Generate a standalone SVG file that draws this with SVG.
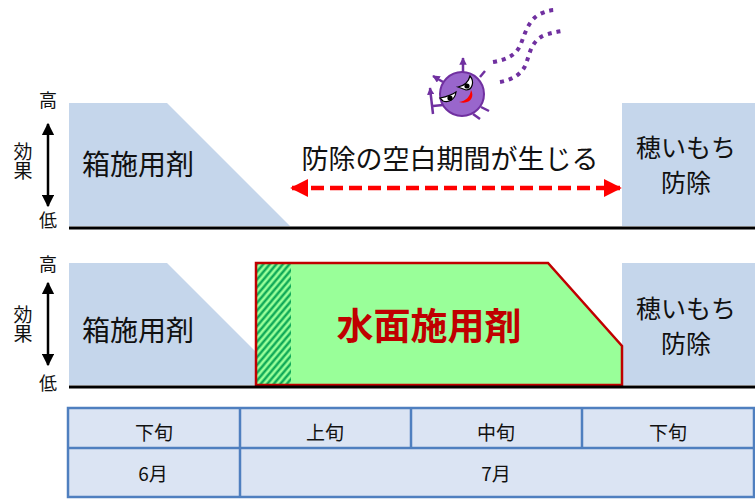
<svg xmlns="http://www.w3.org/2000/svg" width="755" height="499" viewBox="0 0 755 499">
  <defs>
    <style>
      text { font-family: "Noto Sans CJK JP", "Noto Sans", sans-serif; fill: #111; }
      .axis { font-size: 18px; text-anchor: middle; }
      .vert { font-size: 19px; writing-mode: vertical-rl; }
      .label { font-size: 28px; }
      .right { font-size: 25px; text-anchor: middle; }
      .cell { font-size: 19px; text-anchor: middle; }
      .effect { fill: #c5d6eb; }
      .base { stroke: #000; stroke-width: 3; }
      .tbl { fill: #dbe4f3; stroke: #4f7fbf; stroke-width: 2.5; }
      .gap { stroke: #ff0000; stroke-width: 4.5; stroke-dasharray: 13 6; fill: none; }
      .trail { stroke: #7030a0; stroke-width: 4; stroke-dasharray: 4 5; fill: none; }
      .spike { stroke: #7030a0; stroke-width: 2.5; fill: none; }
    </style>
    <marker id="head" viewBox="0 0 10 10" refX="9" refY="5" markerWidth="4" markerHeight="4" orient="auto-start-reverse" markerUnits="strokeWidth">
      <path d="M0,0 L10,5 L0,10 z" fill="#ff0000"/>
    </marker>
    <marker id="axisHead" viewBox="0 0 10 10" refX="9" refY="5" markerWidth="5" markerHeight="5" orient="auto-start-reverse" markerUnits="strokeWidth">
      <path d="M0,0 L10,5 L0,10 z" fill="#000"/>
    </marker>
    <marker id="spikeHead" viewBox="0 0 10 10" refX="9" refY="5" markerWidth="3" markerHeight="3" orient="auto" markerUnits="strokeWidth">
      <path d="M0,0 L10,5 L0,10 z" fill="#7030a0"/>
    </marker>
    <pattern id="hatch" width="5" height="5" patternUnits="userSpaceOnUse" patternTransform="rotate(40)">
      <rect width="5" height="5" fill="#99ff99"/>
      <line x1="1.5" y1="0" x2="1.5" y2="5" stroke="#00a050" stroke-width="2.2"/>
    </pattern>
  </defs>

  <!-- upper chart: without the water-surface treatment -->
  <g id="axis-top">
    <text class="axis" x="48" y="107">高</text>
    <text class="vert" x="23" y="142">効果</text>
    <text class="axis" x="48" y="227">低</text>
    <line x1="48" y1="124" x2="48" y2="206" stroke="#000" stroke-width="2.5" marker-start="url(#axisHead)" marker-end="url(#axisHead)"/>
  </g>
  <g id="box-top">
    <polygon class="effect" points="69,103 167,103 290,226 69,226"/>
    <text class="label" x="82" y="175">箱施用剤</text>
  </g>
  <g id="blast-top">
    <rect class="effect" x="622" y="103" width="133" height="123"/>
    <text class="right" x="686" y="157">穂いもち</text>
    <text class="right" x="686" y="192">防除</text>
  </g>
  <g id="gap-label">
    <text x="450" y="169" font-size="27" text-anchor="middle">防除の空白期間が生じる</text>
  </g>
  <line class="base" x1="69" y1="228" x2="755" y2="228"/>

  <!-- lower chart: with the water-surface treatment -->
  <g id="axis-bottom">
    <text class="axis" x="48" y="271">高</text>
    <text class="vert" x="23" y="305">効果</text>
    <text class="axis" x="48" y="390">低</text>
    <line x1="48" y1="283" x2="48" y2="365" stroke="#000" stroke-width="2.5" marker-start="url(#axisHead)" marker-end="url(#axisHead)"/>
  </g>
  <g id="box-bottom">
    <polygon class="effect" points="69,263 167,263 255,351 255,385 69,385"/>
    <text class="label" x="82" y="341">箱施用剤</text>
  </g>
  <g id="blast-bottom">
    <rect class="effect" x="622" y="263" width="133" height="122"/>
    <text class="right" x="686" y="318">穂いもち</text>
    <text class="right" x="686" y="353">防除</text>
  </g>
  <g id="water-surface">
    <polygon points="256,263 548,263 622,346 622,385 256,385" fill="#99ff99"/>
    <rect x="256" y="263" width="35" height="122" fill="url(#hatch)"/>
    <polygon points="256,263 548,263 622,346 622,385 256,385" fill="none" stroke="#c00000" stroke-width="2.5"/>
    <text x="429" y="340" font-size="37" font-weight="bold" text-anchor="middle" style="fill:#c00000">水面施用剤</text>
  </g>
  <line class="base" x1="69" y1="387" x2="755" y2="387"/>

  <!-- connectors -->
  <g id="connectors">
    <line class="gap" x1="292" y1="188" x2="620" y2="188" marker-start="url(#head)" marker-end="url(#head)"/>
  </g>

  <!-- calendar -->
  <g id="calendar">
    <rect class="tbl" x="68" y="408" width="686" height="89"/>
    <line class="tbl" x1="68" y1="448" x2="754" y2="448"/>
    <line class="tbl" x1="240" y1="408" x2="240" y2="497"/>
    <line class="tbl" x1="411" y1="408" x2="411" y2="448"/>
    <line class="tbl" x1="582" y1="408" x2="582" y2="448"/>
    <text class="cell" x="154" y="440">下旬</text>
    <text class="cell" x="325" y="440">上旬</text>
    <text class="cell" x="496" y="440">中旬</text>
    <text class="cell" x="668" y="440">下旬</text>
    <text class="cell" x="153" y="481">6月</text>
    <text class="cell" x="496" y="481">7月</text>
  </g>

  <!-- blast fungus character with its flight trail -->
  <g id="germ">
    <path class="trail" d="M493,62 C505,60 515,56 520,46 C525,34 528,20 540,14 C546,11 551,10 556,10"/>
    <path class="trail" d="M500,82 C512,80 522,74 526,64 C530,52 532,40 545,35 C551,33 556,32 562,31"/>
    <line class="spike" x1="463" y1="72" x2="463" y2="58" marker-end="url(#spikeHead)"/>
    <line class="spike" x1="443" y1="82" x2="433" y2="76" marker-end="url(#spikeHead)"/>
    <line class="spike" x1="433" y1="114" x2="430" y2="88" marker-end="url(#spikeHead)"/>
    <line class="spike" x1="433" y1="106" x2="443" y2="105"/>
    <line class="spike" x1="480" y1="77" x2="485" y2="71"/>
    <line class="spike" x1="481" y1="107" x2="489" y2="111"/>
    <line class="spike" x1="473" y1="114" x2="480" y2="119"/>
    <circle cx="462" cy="94" r="22" fill="#9966cc" stroke="#7030a0" stroke-width="2"/>
    <path d="M440,98 C445,97 452,95 456,92 C455,100 448,103 443,101 z" fill="#fff" stroke="#000" stroke-width="1.2"/>
    <circle cx="450" cy="98" r="2.6" fill="#000"/>
    <path d="M458,87 C463,86 468,84 470,76 C475,82 472,90 466,90 z" fill="#fff" stroke="#000" stroke-width="1.2"/>
    <circle cx="467" cy="86" r="2.6" fill="#000"/>
    <path d="M459,102 C466,101 470,97 471,90 C475,97 470,105 459,102 z" fill="#ff0000"/>
  </g>
</svg>
